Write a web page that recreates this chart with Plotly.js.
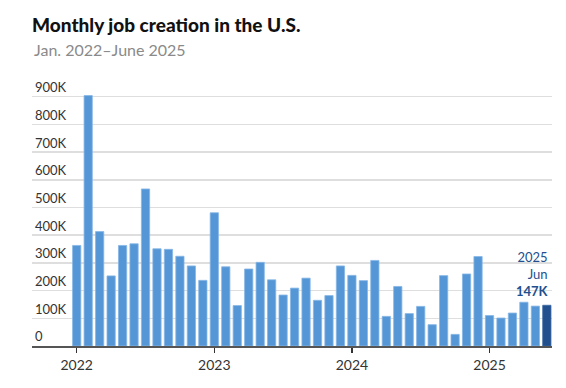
<!DOCTYPE html>
<html><head><meta charset="utf-8">
<script src="https://cdn.plot.ly/plotly-3.0.1.min.js"></script>
<style>html,body{margin:0;padding:0;background:#fff}#c{width:566px;height:388px}</style>
</head><body><div id="c"></div>
<script>
const months = ["Jan 2022","Feb 2022","Mar 2022","Apr 2022","May 2022","Jun 2022","Jul 2022","Aug 2022","Sep 2022","Oct 2022","Nov 2022","Dec 2022",
"Jan 2023","Feb 2023","Mar 2023","Apr 2023","May 2023","Jun 2023","Jul 2023","Aug 2023","Sep 2023","Oct 2023","Nov 2023","Dec 2023",
"Jan 2024","Feb 2024","Mar 2024","Apr 2024","May 2024","Jun 2024","Jul 2024","Aug 2024","Sep 2024","Oct 2024","Nov 2024","Dec 2024",
"Jan 2025","Feb 2025","Mar 2025","Apr 2025","May 2025","Jun 2025"];
const jobs = [363000,904000,413000,253000,363000,369000,567000,351000,349000,324000,289000,237000,
481000,286000,146000,278000,302000,239000,184000,209000,245000,165000,182000,289000,
255000,236000,309000,107000,215000,117000,143000,77000,254000,42000,260000,323000,
110000,101000,119000,158000,144000,147000];
const yearTickIndex = [0,12,24,36];
const yearTickText = ["2022","2023","2024","2025"];
const yTickVals = [0,100000,200000,300000,400000,500000,600000,700000,800000,900000];
const yTickText = ["0","100K","200K","300K","400K","500K","600K","700K","800K","900K"];
const latestYear = "2025", latestMonth = "Jun", latestLabel = "147K";

const FONT = "Lato, 'Open Sans', sans-serif";
const idx = months.map((m,i)=>i);
const n = jobs.length;
const colors = jobs.map((v,i)=> i===n-1 ? "#22508f" : "#5597d6");
const lineColors = jobs.map((v,i)=> i===n-1 ? "#3a67a3" : "#86b6e6");

const W=566,H=388,ML=32,MR=14,MT=69,MB=42;
const py = px => (H-MB-px)/(H-MT-MB);

const data=[{type:"bar",x:idx,y:jobs,width:0.72,
  marker:{color:colors,line:{color:lineColors,width:0.8}},
  hoverinfo:"skip"}];

const layout={width:W,height:H,margin:{l:ML,r:MR,t:MT,b:MB},
  paper_bgcolor:"#fff",plot_bgcolor:"#fff",showlegend:false,
  font:{family:FONT,color:"#333"},
  title:{text:"Monthly job creation in the U.S.",font:{family:FONT,size:19,color:"#111",weight:900},
    xref:"container",x:ML/W,xanchor:"left",yref:"container",y:1-25/H,yanchor:"middle"},
  xaxis:{range:[-3.9,41.45],tickvals:yearTickIndex,ticktext:yearTickText,
    ticks:"outside",ticklen:5,tickwidth:1.5,tickcolor:"#333",
    showline:true,linecolor:"#555",linewidth:2,showgrid:false,zeroline:false,
    tickfont:{family:FONT,size:14,color:"#333"}},
  yaxis:{range:[0,1000000],tickvals:yTickVals,ticktext:yTickText,
    ticklabelposition:"inside top",showgrid:true,gridcolor:"#dedede",gridwidth:1.5,
    zeroline:false,showline:false,ticks:"",
    tickfont:{family:FONT,size:13,color:"#333"}},
  annotations:[
    {xref:"paper",yref:"paper",x:0,y:py(49),xanchor:"left",yanchor:"middle",showarrow:false,
     text:"Jan. 2022\u2013June 2025",font:{family:FONT,size:16,color:"#8a8a8a"}},
    {xref:"paper",yref:"y",x:1,xshift:-1,y:jobs[n-1],yshift:4,xanchor:"right",yanchor:"bottom",showarrow:false,
     align:"right",text:latestYear+"<br>"+latestMonth+"<br><b>"+latestLabel+"</b>",
     font:{family:FONT,size:13,color:"#22508f"}}
  ]};
Plotly.newPlot("c",data,layout,{staticPlot:true,displayModeBar:false});
</script></body></html>
